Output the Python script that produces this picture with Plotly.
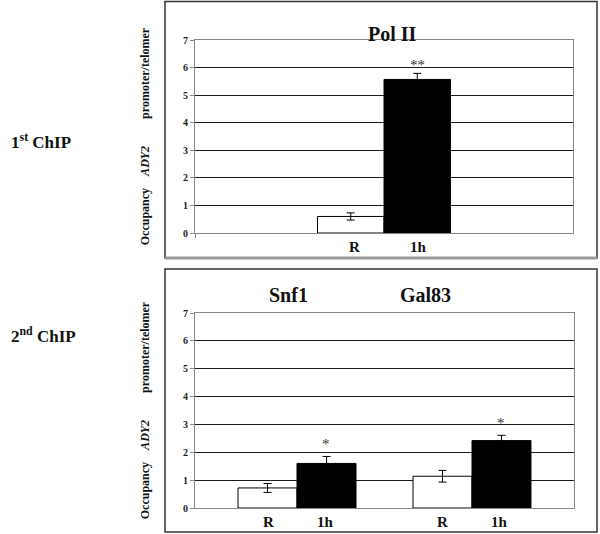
import plotly.graph_objects as go

# ---- data ----
conditions = ["R", "1h"]
top_group = ["Pol II"]
top_R = [0.60]
top_R_err = [0.13]
top_1h = [5.57]
top_1h_err = [0.22]
top_sig = ["**"]

bottom_groups = ["Snf1", "Gal83"]
bot_R = [0.72, 1.14]
bot_R_err = [0.16, 0.21]
bot_1h = [1.60, 2.42]
bot_1h_err = [0.25, 0.19]
bot_sig = ["*", "*"]

y_ticks = [0, 1, 2, 3, 4, 5, 6, 7]
panel_labels = ["1<sup>st</sup> ChIP", "2<sup>nd</sup> ChIP"]
NB = "\u00a0"
ytitle = "Occupancy" + NB * 4 + "<i>ADY2</i>" + NB * 9 + "promoter/telomer" + NB * 3

SERIF = "Liberation Serif"
W, H = 600, 534


def px(x):
    return x / W


def py(y):
    return 1 - y / H


fig = go.Figure()

err_style = dict(type="data", color="black", thickness=1, width=4)

fig.add_trace(go.Bar(x=top_group, y=top_R, name="R", marker=dict(color="white", line=dict(color="black", width=1)),
                     error_y=dict(array=top_R_err, **err_style), xaxis="x", yaxis="y", showlegend=False))
fig.add_trace(go.Bar(x=top_group, y=top_1h, name="1h", marker=dict(color="black", line=dict(color="black", width=1)),
                     error_y=dict(array=top_1h_err, **err_style), xaxis="x", yaxis="y", showlegend=False))
fig.add_trace(go.Bar(x=bottom_groups, y=bot_R, name="R", marker=dict(color="white", line=dict(color="black", width=1)),
                     error_y=dict(array=bot_R_err, **err_style), xaxis="x2", yaxis="y2", showlegend=False))
fig.add_trace(go.Bar(x=bottom_groups, y=bot_1h, name="1h", marker=dict(color="black", line=dict(color="black", width=1)),
                     error_y=dict(array=bot_1h_err, **err_style), xaxis="x2", yaxis="y2", showlegend=False))

bw_bot = 59 / 175
fig.data[2].update(width=bw_bot, offset=-bw_bot)
fig.data[3].update(width=bw_bot, offset=0)
bw_top = 133 / 2 / 378
fig.data[0].update(width=bw_top, offset=-bw_top)
fig.data[1].update(width=bw_top, offset=0)


def yax(domain, anchor):
    return dict(domain=domain, anchor=anchor, range=[0, 7], tickvals=y_ticks, showgrid=True,
                gridcolor="#1a1a1a", gridwidth=1, automargin=False,
                showline=True, linecolor="#888888", linewidth=1, mirror=True,
                zeroline=True, zerolinecolor="#222222", zerolinewidth=1,
                ticks="outside", ticklen=4, tickcolor="#888888",
                tickfont=dict(family=SERIF, size=10, color="#222222", weight="bold"),
                title=dict(text=ytitle, standoff=30,
                           font=dict(family=SERIF, size=12, color="#111111", weight="bold")),
                fixedrange=True)


fig.update_layout(
    width=W, height=H, margin=dict(l=0, r=0, t=0, b=0, autoexpand=False),
    paper_bgcolor="white", plot_bgcolor="white",
    font=dict(family=SERIF),
    barmode="group",
    xaxis=dict(domain=[px(195), px(573)], range=[-0.5, 0.5], showticklabels=False, automargin=False,
               showline=True, linecolor="#888888", mirror=True, ticks="outside", tickson="boundaries",
               ticklen=4, tickcolor="#888888", showgrid=False, anchor="y", fixedrange=True),
    yaxis=yax([py(233), py(40)], "x"),
    xaxis2=dict(domain=[px(195), px(574)], range=[-0.583, 1.583], showticklabels=False, automargin=False,
                showline=True, linecolor="#888888", mirror=True, showgrid=False, anchor="y2", fixedrange=True),
    yaxis2=yax([py(508), py(313)], "x2"),
)

lab_font = dict(family=SERIF, size=15, color="#111111", weight="bold")
ann = []
for g in top_group:
    for c, sh in zip(conditions, [-30, 34]):
        ann.append(dict(x=g, xref="x", y=py(247), yref="paper", text=c, showarrow=False, xshift=sh,
                        font=lab_font, yanchor="middle"))
for g in bottom_groups:
    for c, sh in zip(conditions, [-29, 28]):
        ann.append(dict(x=g, xref="x2", y=py(522), yref="paper", text=c, showarrow=False, xshift=sh,
                        font=lab_font, yanchor="middle"))
for g, v, e, s in zip(top_group, top_1h, top_1h_err, top_sig):
    ann.append(dict(x=g, xref="x", y=v + e, yref="y", text=s, showarrow=False, xshift=33, yanchor="bottom",
                    yshift=-2, font=dict(family=SERIF, size=15, color="#333333")))
for g, v, e, s in zip(bottom_groups, bot_1h, bot_1h_err, bot_sig):
    ann.append(dict(x=g, xref="x2", y=v + e, yref="y2", text=s, showarrow=False, xshift=29, yanchor="bottom",
                    yshift=2, font=dict(family=SERIF, size=15, color="#333333")))
title_font = dict(family=SERIF, size=20, color="#111111", weight="bold")
ann.append(dict(x=px(392), y=py(21), xref="paper", yref="paper", text="Pol II", showarrow=False, font=title_font))
ann.append(dict(x=px(288), y=py(295), xref="paper", yref="paper", text="Snf1", showarrow=False, font=title_font))
ann.append(dict(x=px(453), y=py(295), xref="paper", yref="paper", text="Gal83", showarrow=False, font=title_font))
for lab, yc in zip(panel_labels, [128, 335]):
    ann.append(dict(x=px(9), y=py(yc), xref="paper", yref="paper", text=lab,
                    showarrow=False, xanchor="left",
                    font=dict(family=SERIF, size=17, color="#111111", weight="bold")))
fig.update_layout(annotations=ann)

shapes = [
    dict(type="rect", xref="paper", yref="paper", x0=px(165), x1=px(597), y0=py(258), y1=py(1.5),
         line=dict(color="#333333", width=1.5)),
    dict(type="line", xref="paper", yref="paper", x0=px(165), x1=px(597), y0=py(258), y1=py(258),
         line=dict(color="#999999", width=3)),
    dict(type="rect", xref="paper", yref="paper", x0=px(165), x1=px(597), y0=py(532), y1=py(269),
         line=dict(color="#333333", width=1.5)),
]
fig.update_layout(shapes=shapes)

fig.write_html("out.html", config={"displayModeBar": False},
               post_script="document.body.style.margin='0';")
